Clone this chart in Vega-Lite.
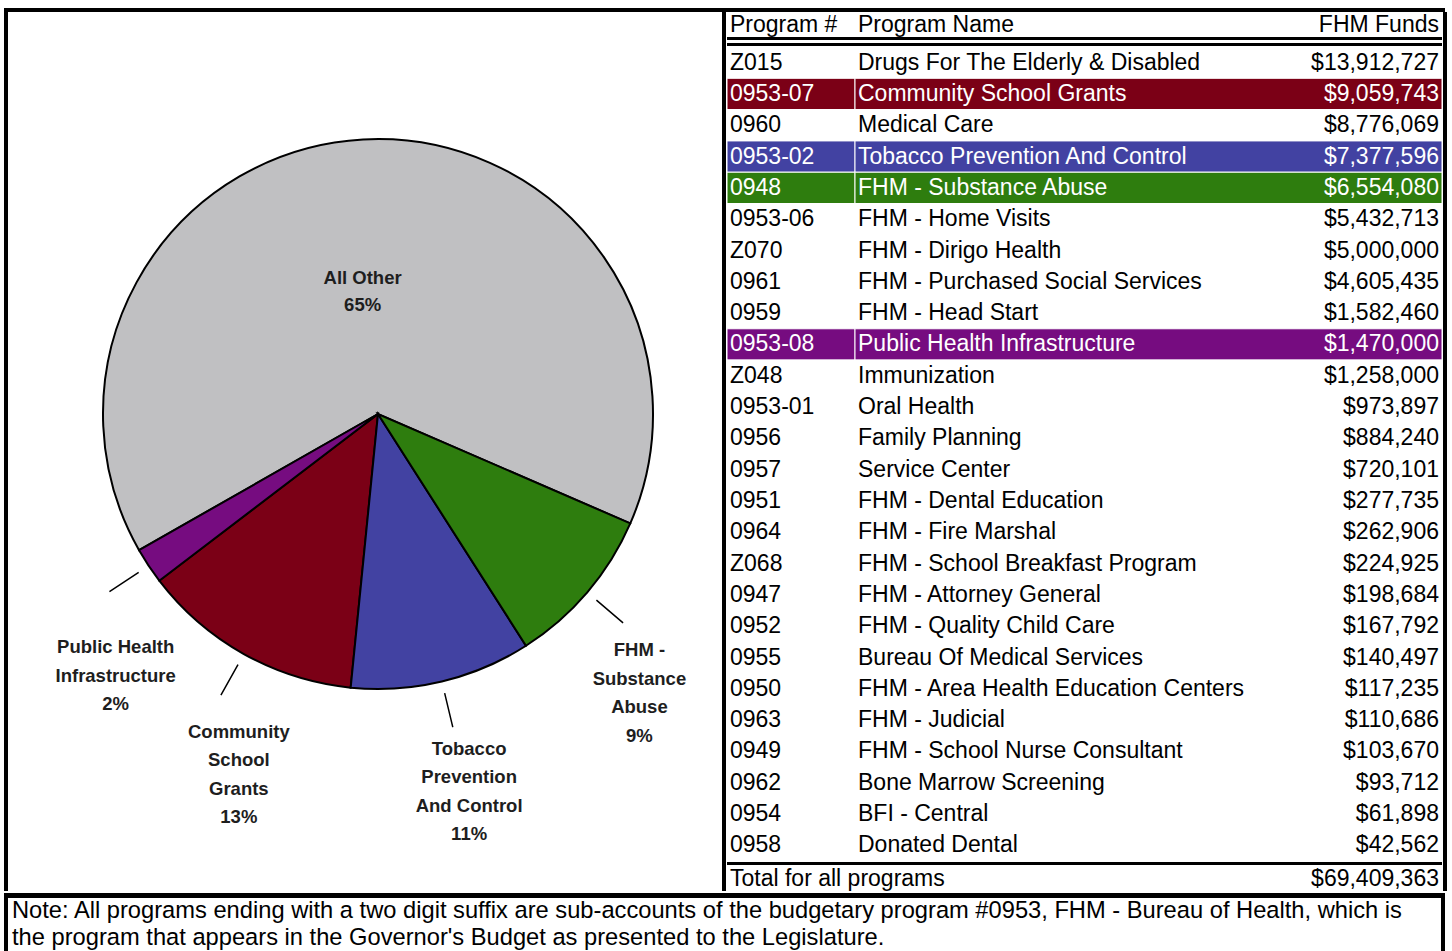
{
  "$schema": "https://vega.github.io/schema/vega-lite/v6.json",
  "background": "white",
  "padding": {"left": 4, "top": 8, "right": 0, "bottom": 0},
  "config": {"view": {"stroke": null}, "font": "Liberation Sans"},
  "datasets": {
    "programs": [
      {"code": "Z015", "name": "Drugs For The Elderly & Disabled", "funds": 13912727, "slice": "All Other"},
      {"code": "0953-07", "name": "Community School Grants", "funds": 9059743, "slice": "Community School Grants"},
      {"code": "0960", "name": "Medical Care", "funds": 8776069, "slice": "All Other"},
      {"code": "0953-02", "name": "Tobacco Prevention And Control", "funds": 7377596, "slice": "Tobacco Prevention And Control"},
      {"code": "0948", "name": "FHM - Substance Abuse", "funds": 6554080, "slice": "FHM - Substance Abuse"},
      {"code": "0953-06", "name": "FHM - Home Visits", "funds": 5432713, "slice": "All Other"},
      {"code": "Z070", "name": "FHM - Dirigo Health", "funds": 5000000, "slice": "All Other"},
      {"code": "0961", "name": "FHM - Purchased Social Services", "funds": 4605435, "slice": "All Other"},
      {"code": "0959", "name": "FHM - Head Start", "funds": 1582460, "slice": "All Other"},
      {"code": "0953-08", "name": "Public Health Infrastructure", "funds": 1470000, "slice": "Public Health Infrastructure"},
      {"code": "Z048", "name": "Immunization", "funds": 1258000, "slice": "All Other"},
      {"code": "0953-01", "name": "Oral Health", "funds": 973897, "slice": "All Other"},
      {"code": "0956", "name": "Family Planning", "funds": 884240, "slice": "All Other"},
      {"code": "0957", "name": "Service Center", "funds": 720101, "slice": "All Other"},
      {"code": "0951", "name": "FHM - Dental Education", "funds": 277735, "slice": "All Other"},
      {"code": "0964", "name": "FHM - Fire Marshal", "funds": 262906, "slice": "All Other"},
      {"code": "Z068", "name": "FHM - School Breakfast Program", "funds": 224925, "slice": "All Other"},
      {"code": "0947", "name": "FHM - Attorney General", "funds": 198684, "slice": "All Other"},
      {"code": "0952", "name": "FHM - Quality Child Care", "funds": 167792, "slice": "All Other"},
      {"code": "0955", "name": "Bureau Of Medical Services", "funds": 140497, "slice": "All Other"},
      {"code": "0950", "name": "FHM - Area Health Education Centers", "funds": 117235, "slice": "All Other"},
      {"code": "0963", "name": "FHM - Judicial", "funds": 110686, "slice": "All Other"},
      {"code": "0949", "name": "FHM - School Nurse Consultant", "funds": 103670, "slice": "All Other"},
      {"code": "0962", "name": "Bone Marrow Screening", "funds": 93712, "slice": "All Other"},
      {"code": "0954", "name": "BFI - Central", "funds": 61898, "slice": "All Other"},
      {"code": "0958", "name": "Donated Dental", "funds": 42562, "slice": "All Other"}
    ],
    "sliceLabels": [
      {"slice": "FHM - Substance Abuse", "lines": ["FHM -", "Substance", "Abuse", "9%"]},
      {"slice": "Tobacco Prevention And Control", "lines": ["Tobacco", "Prevention", "And Control", "11%"]},
      {"slice": "Community School Grants", "lines": ["Community", "School", "Grants", "13%"]},
      {"slice": "Public Health Infrastructure", "lines": ["Public Health", "Infrastructure", "2%"]},
      {"slice": "All Other", "lines": ["All Other", "65%"]}
    ],
    "labels": [
      {"role": "header", "code": "Program #", "name": "Program Name", "funds": "FHM Funds"},
      {"role": "total", "code": "Total for all programs", "name": "", "funds": ""}
    ],
    "note": [
      {"line": 1, "text": "Note: All programs ending with a two digit suffix are sub-accounts of the budgetary program #0953, FHM - Bureau of Health, which is"},
      {"line": 2, "text": "the program that appears in the Governor's Budget as presented to the Legislature."}
    ]
  },
  "spacing": 0,
  "vconcat": [
    {"width": 1441, "height": 4, "data": {"values": [{}]}, "mark": {"type": "text", "text": "", "fontSize": 0}, "view": {"fill": "black"}},
    {
      "spacing": 0,
      "hconcat": [
        {"width": 4, "height": 879, "data": {"values": [{}]}, "mark": {"type": "text", "text": "", "fontSize": 0}, "view": {"fill": "black"}},
        {
          "spacing": 0,
          "bounds": "flush",
          "hconcat": [
            {"width": 26, "height": 804, "data": {"values": [{}]}, "mark": {"type": "text", "text": "", "fontSize": 0}},
            {
              "width": 688,
              "height": 804,
              "data": {"name": "programs"},
              "transform": [
                {"aggregate": [{"op": "sum", "field": "funds", "as": "total"}, {"op": "max", "field": "code", "as": "key"}], "groupby": ["slice"]},
                {"lookup": "slice", "from": {"data": {"name": "sliceLabels"}, "key": "slice", "fields": ["lines"]}}
              ],
              "encoding": {
                "order": {"field": "key", "type": "ordinal"}
              },
              "resolve": {"scale": {"theta": "independent"}},
              "layer": [
                {
                  "mark": {"type": "arc", "radius": 275, "stroke": "black", "strokeWidth": 2},
                  "encoding": {
                    "theta": {"field": "total", "type": "quantitative", "stack": true, "scale": {"range": [1.98, 8.2632]}},
                    "color": {
                      "field": "slice", "type": "nominal", "legend": null,
                      "scale": {
                        "domain": ["FHM - Substance Abuse", "Tobacco Prevention And Control", "Community School Grants", "Public Health Infrastructure", "All Other"],
                        "range": ["#2E7D0E", "#4242A2", "#7B0016", "#760C80", "#C0C0C2"]
                      }
                    }
                  }
                },
                {
                  "mark": {"type": "arc", "radius": 322, "radius2": 287, "padAngle": 3, "fillOpacity": 0, "stroke": "black", "strokeWidth": 1.5},
                  "encoding": {
                    "theta": {"field": "total", "type": "quantitative", "stack": true, "scale": {"range": [1.98, 8.2632]}},
                    "strokeOpacity": {"condition": {"test": "datum.slice === 'All Other'", "value": 0}, "value": 1}
                  }
                },
                {
                  "mark": {"type": "text", "radius": 136, "baseline": "middle", "align": "center", "dx": -8, "fontSize": 18.5, "fontWeight": "bold", "lineHeight": 27, "color": "#1e1e1e"},
                  "encoding": {
                    "theta": {"field": "total", "type": "quantitative", "stack": true, "scale": {"range": [1.98, 8.2632]}},
                    "text": {"condition": {"test": "datum.slice !== 'All Other'", "value": ""}, "field": "lines", "type": "nominal"}
                  }
                },
                {
                  "mark": {"type": "text", "radius": 364, "baseline": "middle", "align": "center", "dx": 1, "dy": -18, "fontSize": 18.5, "fontWeight": "bold", "lineHeight": 28.5, "color": "#1e1e1e"},
                  "encoding": {
                    "theta": {"field": "total", "type": "quantitative", "stack": true, "scale": {"range": [2.087, 7.538]}},
                    "text": {"condition": {"test": "datum.slice === 'All Other'", "value": ""}, "field": "lines", "type": "nominal"}
                  }
                }
              ]
            }
          ]
        },
        {"width": 4, "height": 879, "data": {"values": [{}]}, "mark": {"type": "text", "text": "", "fontSize": 0}, "view": {"fill": "black"}},
        {
          "spacing": 0,
          "vconcat": [
            {
              "spacing": 0,
              "bounds": "flush",
              "hconcat": [
                {
                  "width": 128, "height": 25,
                  "data": {"name": "labels"},
                  "transform": [{"filter": "datum.role === 'header'"}],
                  "mark": {"type": "text", "align": "left", "baseline": "middle", "dx": 3, "fontSize": 23, "color": "black"},
                  "encoding": {
                    "x": {"datum": 0, "type": "quantitative", "scale": {"domain": [0, 1]}, "axis": null},
                    "text": {"field": "code", "type": "nominal"}
                  }
                },
                {
                  "width": 587, "height": 25,
                  "data": {"name": "labels"},
                  "transform": [{"filter": "datum.role === 'header'"}],
                  "layer": [
                    {
                      "mark": {"type": "text", "align": "left", "baseline": "middle", "dx": 3, "fontSize": 23, "color": "black"},
                      "encoding": {
                        "x": {"datum": 0, "type": "quantitative", "scale": {"domain": [0, 1]}, "axis": null},
                        "text": {"field": "name", "type": "nominal"}
                      }
                    },
                    {
                      "mark": {"type": "text", "align": "right", "baseline": "middle", "dx": -3, "fontSize": 23, "color": "black"},
                      "encoding": {
                        "x": {"datum": 1, "type": "quantitative", "scale": {"domain": [0, 1]}, "axis": null},
                        "text": {"field": "funds", "type": "nominal"}
                      }
                    }
                  ]
                }
              ]
            },
            {"width": 715, "height": 3, "data": {"values": [{}]}, "mark": {"type": "text", "text": "", "fontSize": 0}, "view": {"fill": "black"}},
            {"width": 715, "height": 3, "data": {"values": [{}]}, "mark": {"type": "text", "text": "", "fontSize": 0}},
            {"width": 715, "height": 3, "data": {"values": [{}]}, "mark": {"type": "text", "text": "", "fontSize": 0}, "view": {"fill": "black"}},
            {
              "spacing": 0,
              "bounds": "flush",
              "hconcat": [
                {
                  "width": 128, "height": 814,
                  "data": {"name": "programs"},
                  "encoding": {
                    "y": {"field": "code", "type": "nominal", "sort": null, "axis": null, "scale": {"paddingInner": 0, "paddingOuter": 0}}
                  },
                  "layer": [
                    {
                      "mark": {"type": "rect", "stroke": "white", "strokeWidth": 1},
                      "encoding": {
                        "fill": {"condition": [
                          {"test": "datum.slice === 'FHM - Substance Abuse'", "value": "#2E7D0E"},
                          {"test": "datum.slice === 'Tobacco Prevention And Control'", "value": "#4242A2"},
                          {"test": "datum.slice === 'Community School Grants'", "value": "#7B0016"},
                          {"test": "datum.slice === 'Public Health Infrastructure'", "value": "#760C80"}
                        ], "value": "white"}
                      }
                    },
                    {
                      "mark": {"type": "text", "align": "left", "baseline": "middle", "dx": 3, "fontSize": 23},
                      "encoding": {
                        "x": {"datum": 0, "type": "quantitative", "scale": {"domain": [0, 1]}, "axis": null},
                        "text": {"field": "code", "type": "nominal"},
                        "fill": {"condition": {"test": "datum.slice !== 'All Other'", "value": "white"}, "value": "black"}
                      }
                    }
                  ]
                },
                {
                  "width": 587, "height": 814,
                  "data": {"name": "programs"},
                  "encoding": {
                    "y": {"field": "code", "type": "nominal", "sort": null, "axis": null, "scale": {"paddingInner": 0, "paddingOuter": 0}}
                  },
                  "layer": [
                    {
                      "mark": {"type": "rect", "stroke": "white", "strokeWidth": 1},
                      "encoding": {
                        "fill": {"condition": [
                          {"test": "datum.slice === 'FHM - Substance Abuse'", "value": "#2E7D0E"},
                          {"test": "datum.slice === 'Tobacco Prevention And Control'", "value": "#4242A2"},
                          {"test": "datum.slice === 'Community School Grants'", "value": "#7B0016"},
                          {"test": "datum.slice === 'Public Health Infrastructure'", "value": "#760C80"}
                        ], "value": "white"}
                      }
                    },
                    {
                      "mark": {"type": "text", "align": "left", "baseline": "middle", "dx": 3, "fontSize": 23},
                      "encoding": {
                        "x": {"datum": 0, "type": "quantitative", "scale": {"domain": [0, 1]}, "axis": null},
                        "text": {"field": "name", "type": "nominal"},
                        "fill": {"condition": {"test": "datum.slice !== 'All Other'", "value": "white"}, "value": "black"}
                      }
                    },
                    {
                      "mark": {"type": "text", "align": "right", "baseline": "middle", "dx": -3, "fontSize": 23},
                      "encoding": {
                        "x": {"datum": 1, "type": "quantitative", "scale": {"domain": [0, 1]}, "axis": null},
                        "text": {"field": "funds", "type": "quantitative", "format": "$,d"},
                        "fill": {"condition": {"test": "datum.slice !== 'All Other'", "value": "white"}, "value": "black"}
                      }
                    }
                  ]
                }
              ]
            },
            {"width": 715, "height": 3, "data": {"values": [{}]}, "mark": {"type": "text", "text": "", "fontSize": 0}, "view": {"fill": "black"}},
            {
              "width": 715, "height": 28,
              "layer": [
                {
                  "data": {"name": "labels"},
                  "transform": [{"filter": "datum.role === 'total'"}],
                  "mark": {"type": "text", "align": "left", "baseline": "middle", "dx": 3, "fontSize": 23, "color": "black"},
                  "encoding": {
                    "x": {"datum": 0, "type": "quantitative", "scale": {"domain": [0, 1]}, "axis": null},
                    "text": {"field": "code", "type": "nominal"}
                  }
                },
                {
                  "data": {"name": "programs"},
                  "transform": [{"aggregate": [{"op": "sum", "field": "funds", "as": "total"}]}],
                  "mark": {"type": "text", "align": "right", "baseline": "middle", "dx": -3, "fontSize": 23, "color": "black"},
                  "encoding": {
                    "x": {"datum": 1, "type": "quantitative", "scale": {"domain": [0, 1]}, "axis": null},
                    "text": {"field": "total", "type": "quantitative", "format": "$,d"}
                  }
                }
              ]
            }
          ]
        },
        {"width": 4, "height": 879, "data": {"values": [{}]}, "mark": {"type": "text", "text": "", "fontSize": 0}, "view": {"fill": "black"}}
      ]
    },
    {"width": 1441, "height": 5, "data": {"values": [{}]}, "mark": {"type": "text", "text": "", "fontSize": 0}, "view": {"fill": "black"}},
    {
      "spacing": 0,
      "bounds": "flush",
      "hconcat": [
        {"width": 4, "height": 55, "data": {"values": [{}]}, "mark": {"type": "text", "text": "", "fontSize": 0}, "view": {"fill": "black"}},
        {
          "width": 1433, "height": 55,
          "data": {"name": "note"},
          "mark": {"type": "text", "align": "left", "baseline": "middle", "dx": 4, "dy": -1, "fontSize": 23.7, "color": "black"},
          "encoding": {
            "x": {"datum": 0, "type": "quantitative", "scale": {"domain": [0, 1]}, "axis": null},
            "y": {"field": "line", "type": "ordinal", "axis": null, "scale": {"paddingInner": 0, "paddingOuter": 0}},
            "text": {"field": "text", "type": "nominal"}
          }
        },
        {"width": 4, "height": 55, "data": {"values": [{}]}, "mark": {"type": "text", "text": "", "fontSize": 0}, "view": {"fill": "black"}}
      ]
    }
  ]
}
